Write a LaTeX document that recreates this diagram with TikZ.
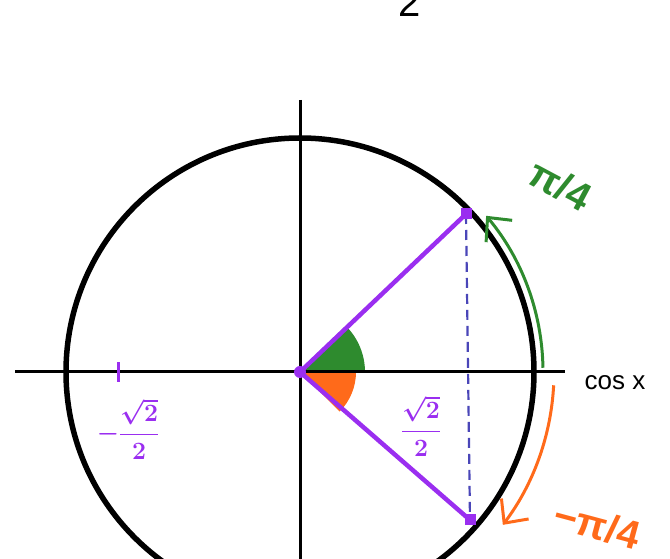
\documentclass[tikz,border=0pt]{standalone}
\usepackage{fontspec}
\setmainfont{Liberation Sans}
\usetikzlibrary{arrows.meta}
\definecolor{pviolet}{HTML}{9A2EF0}
\definecolor{hgreen}{HTML}{2E8B2E}
\definecolor{horange}{HTML}{FF6A1A}
\definecolor{dashblue}{HTML}{4A46B8}
\tikzset{
  axisline/.style={line width=3pt, black},
  ray/.style={line width=4.5pt, pviolet},
  anglearrow/.style={line width=3pt, -{Straight Barb[length=18pt,width=34pt,line width=3pt]}},
  hand/.style={font=\fontsize{40}{40}\selectfont\bfseries},
  frac/.style={text=pviolet, font=\fontsize{24}{24}\selectfont\boldmath, inner sep=1pt},
  dot/.style={rectangle, fill=pviolet, inner sep=0pt, minimum size=11pt}
}
\begin{document}
\begin{tikzpicture}[x=1pt,y=1pt]
\useasboundingbox (0,0) rectangle (670,559);
\clip (0,0) rectangle (670,559);
\coordinate (O) at (300,187);
\coordinate (P1) at (466,345);
\coordinate (P2) at (470,39);
\coordinate (XL) at (15,187);
\coordinate (XR) at (565,187);
\coordinate (YT) at (300,459);
\coordinate (YB) at (300,-10);
% wedges
\fill[hgreen] (O) -- ++(0:65) arc (0:45:65) -- cycle;
\fill[horange] (O) -- ++(0:56) arc (0:-45:56) -- cycle;
% circle
\draw[line width=5.5pt] (O) circle (234);
% axes
\draw[axisline] (XL) -- (XR);
\draw[axisline] (YT) -- (YB);
% dashed
\draw[dashblue, line width=2.2pt, dash pattern=on 10pt off 6pt] (P1) -- (P2);
% rays
\draw[ray] (O) -- (P1);
\draw[ray] (O) -- (P2);
\node[dot, circle, minimum size=12pt] (o) at (O) {};
\node[dot] (p1) at (P1) {};
\node[dot] (p2) at (P2) {};
% arcs
\draw[hgreen, anglearrow] ([shift={(1:243)}]O) arc (1:40:243);
\draw[horange, anglearrow] ([shift={(-3:254)}]O) arc (-3:-37:254);
% labels
\node[hand, text=hgreen, rotate=-28] (pi4) at (560,374) {π/4};
\node[hand, text=horange, rotate=-15] (mpi4) at (597,34) {−π/4};
\node[font=\fontsize{26}{26}\selectfont] (cosx) at (615,176) {cos x};
\node[font=\fontsize{40}{40}\selectfont] (two) at (410,556) {2};
% tick
\coordinate (T) at (118,187);
\draw[pviolet, line width=3pt] ([yshift=-10pt]T) -- ([yshift=10pt]T);
\node[frac] (negf) at (128,130) {$-\displaystyle\frac{\sqrt{2}}{2}$};
\node[frac] (posf) at (421,133) {$\displaystyle\frac{\sqrt{2}}{2}$};
\end{tikzpicture}
\end{document}
